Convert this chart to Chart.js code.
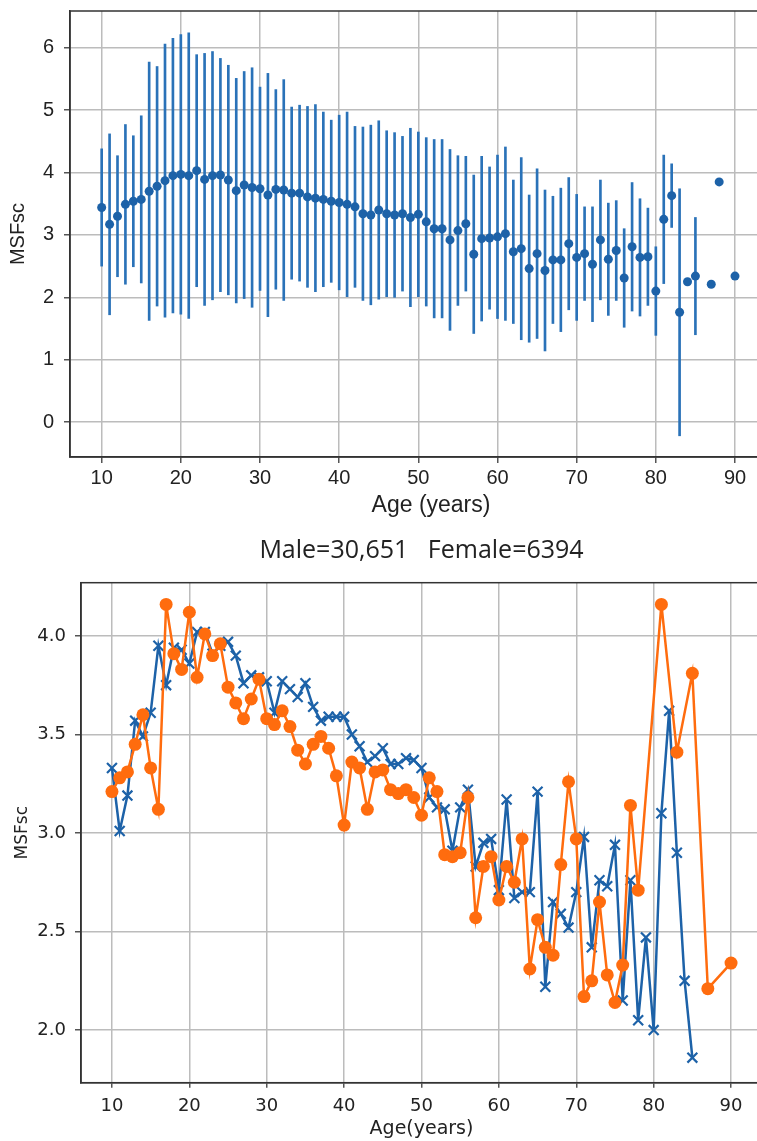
<!DOCTYPE html>
<html lang="en">
<head>
  <meta charset="UTF-8">
  <title>MSFsc by age</title>
  <script src="https://cdn.jsdelivr.net/npm/chart.js"></script>
  <style>
    html, body {
      margin: 0;
      padding: 0;
      background: #fff;
      overflow: hidden;
    }
    body {
      width: 757px;
      height: 1141px;
      position: relative;
    }
    #chart-sd {
      position: absolute;
      left: 0;
      top: 0;
    }
    #chart-sex {
      position: absolute;
      left: 0;
      top: 525px;
    }
  </style>
</head>
<body>
  <canvas id="chart-sd" width="792" height="520"></canvas>
  <canvas id="chart-sex" width="762" height="616"></canvas>

  <script>
    // ages 10..90, null where there is no data
    const ages = [];
    for (let a = 10; a <= 90; a++) ages.push(a);

    // all subjects: mean MSFsc and standard deviation per age
    const meanAll = [
      3.44, 3.17, 3.30, 3.49, 3.54, 3.57, 3.70, 3.78, 3.87, 3.95,   // 10-19
      3.97, 3.95, 4.03, 3.89, 3.95, 3.96, 3.88, 3.71, 3.80, 3.76,   // 20-29
      3.74, 3.64, 3.73, 3.72, 3.67, 3.67, 3.61, 3.59, 3.57, 3.54,   // 30-39
      3.52, 3.49, 3.45, 3.34, 3.32, 3.40, 3.34, 3.32, 3.34, 3.28,   // 40-49
      3.33, 3.21, 3.10, 3.10, 2.92, 3.07, 3.18, 2.69, 2.94, 2.95,   // 50-59
      2.97, 3.02, 2.73, 2.78, 2.46, 2.70, 2.43, 2.60, 2.60, 2.86,   // 60-69
      2.64, 2.70, 2.53, 2.92, 2.61, 2.75, 2.31, 2.81, 2.64, 2.65,   // 70-79
      2.10, 3.25, 3.63, 1.76, 2.25, 2.34, null, 2.21, 3.85, null,   // 80-89
      2.34                                                          // 90
    ];
    const sdAll = [
      0.94, 1.45, 0.97, 1.28, 1.05, 1.34, 2.07, 1.92, 2.19, 2.20,
      2.24, 2.29, 1.86, 2.02, 1.99, 1.87, 1.84, 1.80, 1.82, 1.92,
      1.63, 1.95, 1.60, 1.77, 1.38, 1.41, 1.45, 1.50, 1.40, 1.30,
      1.40, 1.48, 1.29, 1.39, 1.44, 1.43, 1.33, 1.32, 1.24, 1.43,
      1.32, 1.35, 1.43, 1.43, 1.45, 1.20, 1.08, 1.27, 1.32, 1.14,
      1.31, 1.39, 1.15, 1.46, 1.18, 1.36, 1.29, 1.02, 1.15, 1.06,
      1.01, 0.75, 0.92, 0.96, 0.90, 0.80, 0.79, 1.03, 0.94, 0.78,
      0.71, 1.03, 0.51, 1.98, 0, 0.94, null, 0, 0, null,
      0
    ];

    // mean MSFsc by sex
    const meanMale = [
      3.33, 3.01, 3.19, 3.57, 3.49, 3.61, 3.95, 3.75, 3.94, 3.93,
      3.86, 4.02, 4.02, 3.91, 3.95, 3.97, 3.90, 3.76, 3.80, 3.79,
      3.77, 3.61, 3.77, 3.73, 3.69, 3.76, 3.64, 3.57, 3.59, 3.59,
      3.59, 3.50, 3.44, 3.36, 3.39, 3.43, 3.35, 3.35, 3.38, 3.37,
      3.33, 3.18, 3.13, 3.12, 2.91, 3.13, 3.22, 2.83, 2.95, 2.97,
      2.71, 3.17, 2.67, 2.70, 2.70, 3.21, 2.22, 2.65, 2.59, 2.52,
      2.70, 2.98, 2.42, 2.76, 2.73, 2.94, 2.15, 2.76, 2.05, 2.47,
      2.00, 3.10, 3.62, 2.90, 2.25, 1.86, null, null, null, null,
      null
    ];
    const meanFemale = [
      3.21, 3.28, 3.31, 3.45, 3.60, 3.33, 3.12, 4.16, 3.91, 3.83,
      4.12, 3.79, 4.01, 3.90, 3.96, 3.74, 3.66, 3.58, 3.68, 3.78,
      3.58, 3.55, 3.62, 3.54, 3.42, 3.35, 3.45, 3.49, 3.43, 3.29,
      3.04, 3.36, 3.33, 3.12, 3.31, 3.32, 3.22, 3.20, 3.22, 3.18,
      3.09, 3.28, 3.21, 2.89, 2.88, 2.90, 3.18, 2.57, 2.83, 2.88,
      2.66, 2.83, 2.75, 2.97, 2.31, 2.56, 2.42, 2.38, 2.84, 3.26,
      2.97, 2.17, 2.25, 2.65, 2.28, 2.14, 2.33, 3.14, 2.71, null,
      null, 4.16, null, 3.41, null, 3.81, null, 2.21, null, null,
      2.34
    ];

    const titleSex = "Male=30,651   Female=6394";

    const BLUE = "#1d62a8";
    const BAR_BLUE = "#2a72b8";
    const ORANGE = "#ff6c0e";
    const GRID = "#bcbcbc";
    const INK = "#222";

    const toPoints = vals => ages.map((a, i) => ({ x: a, y: vals[i] }));

    // fixed axis size, and no extra room kept for edge labels
    const fixBox = (w, h) => s => {
      if (w !== null) s.width = w;
      if (h !== null) s.height = h;
      s.paddingTop = s.paddingBottom = s.paddingLeft = s.paddingRight = 0;
    };

    // box around the plot area, like the axes spines
    const framePlugin = {
      id: "frame",
      afterDraw(chart) {
        const { ctx, chartArea: a } = chart;
        ctx.save();
        ctx.strokeStyle = "#333";
        ctx.lineWidth = 1.5;
        ctx.strokeRect(a.left, a.top, a.right - a.left, a.bottom - a.top);
        ctx.restore();
      }
    };

    // ---------- mean +/- SD ----------
    const sdBars = [];
    const sdDots = [];
    ages.forEach((a, i) => {
      if (meanAll[i] === null) return;
      sdDots.push({ x: a, y: meanAll[i] });
      if (sdAll[i] > 0) sdBars.push({ x: a, y: [meanAll[i] - sdAll[i], meanAll[i] + sdAll[i]] });
    });

    const armFont = { family: "'Liberation Sans', Arial, sans-serif", size: 20 };

    new Chart(document.getElementById("chart-sd"), {
      type: "scatter",
      data: {
        datasets: [
          {
            type: "scatter",
            data: sdDots,
            backgroundColor: BLUE,
            borderWidth: 0,
            pointRadius: 4.5,
            order: 1
          },
          {
            type: "bar",
            data: sdBars,
            backgroundColor: BAR_BLUE,
            borderWidth: 0,
            barThickness: 2,
            grouped: false,
            order: 2
          }
        ]
      },
      options: {
        responsive: false,
        animation: false,
        events: [],
        layout: { autoPadding: false, padding: { top: 11, right: 0, bottom: 0, left: 0 } },
        plugins: { legend: { display: false }, tooltip: { enabled: false } },
        scales: {
          x: {
            type: "linear",
            min: 6,
            max: 97.2,
            offset: false,
            grid: { color: GRID, lineWidth: 1.5, offset: false, tickLength: 6, tickColor: "#555" },
            border: { color: "#333", width: 1.5 },
            ticks: { stepSize: 10, includeBounds: false, padding: 3, color: INK, font: armFont },
            title: {
              display: true,
              text: "Age (years)",
              color: INK,
              font: { family: armFont.family, size: 23 },
              padding: { top: 0, bottom: 1 }
            },
            afterFit: fixBox(null, 63)
          },
          y: {
            type: "linear",
            min: -0.56,
            max: 6.59,
            grid: { color: GRID, lineWidth: 1.5, tickLength: 6, tickColor: "#555" },
            border: { color: "#333", width: 1.5 },
            ticks: { stepSize: 1, includeBounds: false, padding: 10, color: INK, font: armFont },
            title: {
              display: true,
              text: "MSFsc",
              color: INK,
              font: { family: armFont.family, size: 20 },
              padding: { top: 6, bottom: 0 }
            },
            afterFit: fixBox(70, null)
          }
        }
      },
      plugins: [framePlugin]
    });

    // ---------- male vs female ----------
    const dvFont = { family: "'DejaVu Sans', sans-serif", size: 18 };

    new Chart(document.getElementById("chart-sex"), {
      type: "line",
      data: {
        datasets: [
          {
            label: "Male",
            data: toPoints(meanMale),
            borderColor: BLUE,
            borderWidth: 2.5,
            pointStyle: "crossRot",
            pointRadius: 7,
            pointBorderWidth: 2.2,
            pointBorderColor: BLUE,
            pointBackgroundColor: BLUE,
            spanGaps: false,
            order: 2
          },
          {
            label: "Female",
            data: toPoints(meanFemale),
            borderColor: ORANGE,
            borderWidth: 2.5,
            pointStyle: "circle",
            pointRadius: 6.5,
            pointBorderWidth: 0,
            pointBackgroundColor: ORANGE,
            spanGaps: true,
            order: 1
          }
        ]
      },
      options: {
        responsive: false,
        animation: false,
        events: [],
        layout: { autoPadding: false, padding: 0 },
        plugins: {
          legend: { display: false },
          tooltip: { enabled: false },
          title: {
            display: true,
            text: titleSex,
            fullSize: false,
            color: INK,
            font: { family: "'Open Sans', sans-serif", size: 25, weight: "normal" },
            padding: { top: 11, bottom: 16.7 }
          }
        },
        scales: {
          x: {
            type: "linear",
            min: 6,
            max: 94,
            grid: { color: GRID, lineWidth: 1.5, tickLength: 5, tickColor: "#555" },
            border: { color: "#333", width: 1.5 },
            ticks: { stepSize: 10, includeBounds: false, padding: 8, color: INK, font: dvFont },
            title: {
              display: true,
              text: "Age(years)",
              color: INK,
              font: { family: dvFont.family, size: 19 },
              padding: { top: 0, bottom: 1 }
            },
            afterFit: fixBox(null, 58.3)
          },
          y: {
            type: "linear",
            min: 1.733,
            max: 4.27,
            grid: { color: GRID, lineWidth: 1.5, tickLength: 6, tickColor: "#555" },
            border: { color: "#333", width: 1.5 },
            ticks: {
              stepSize: 0.5,
              includeBounds: false,
              padding: 9,
              color: INK,
              font: dvFont,
              callback: v => v.toFixed(1)
            },
            title: {
              display: true,
              text: "MSFsc",
              color: INK,
              font: { family: dvFont.family, size: 17 },
              padding: { top: 12, bottom: 0 }
            },
            afterFit: fixBox(81, null)
          }
        }
      },
      plugins: [framePlugin]
    });
  </script>
</body>
</html>
